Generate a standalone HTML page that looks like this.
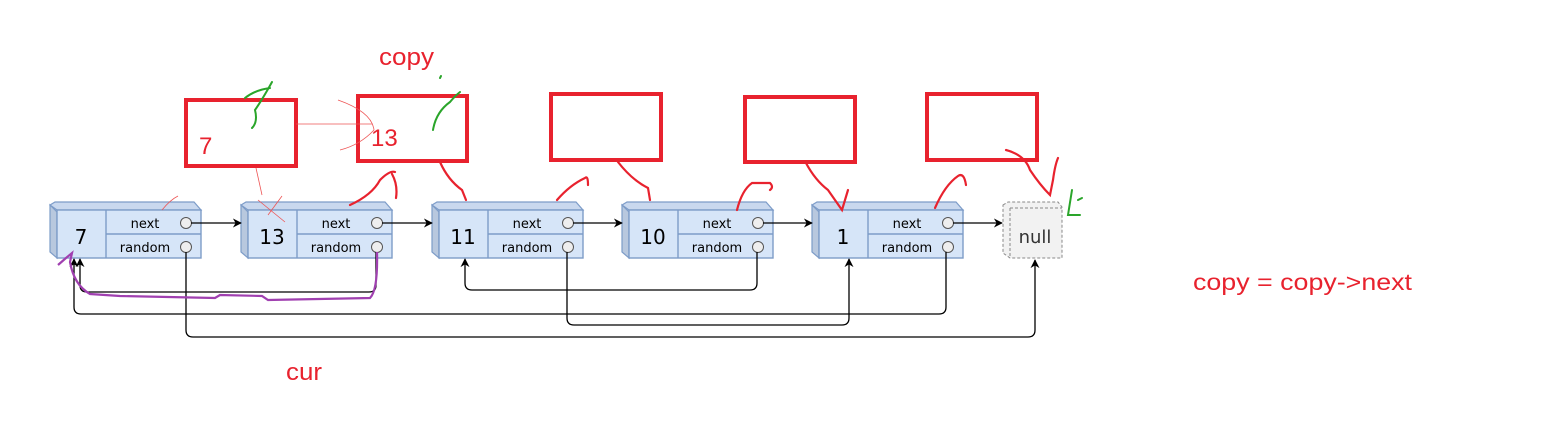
<!DOCTYPE html>
<html><head><meta charset="utf-8"><style>
body{margin:0;background:#fff;width:1543px;height:429px;overflow:hidden}
svg{display:block}
.lbl{font-family:"Comic Sans MS","DejaVu Sans",sans-serif}
</style></head><body>
<svg width="1543" height="429" viewBox="0 0 1543 429" xmlns="http://www.w3.org/2000/svg">
<defs>
<marker id="ar" viewBox="0 0 10 10" refX="9" refY="5" markerWidth="9" markerHeight="9" markerUnits="userSpaceOnUse" orient="auto"><path d="M0,0 L10,5 L0,10 L3,5z" fill="#000"/></marker>
<g id="node">
 <polygon points="0,3 7,10 7,56 0,50" fill="#b8c8de" stroke="#7d9cc8" stroke-width="1.2"/>
 <polygon points="0,3 5,0 144,0 151,8 7,8" fill="#c9d8ee" stroke="#7d9cc8" stroke-width="1.2"/>
 <rect x="7" y="8" width="144" height="48" fill="#d6e5f8" stroke="#7d9cc8" stroke-width="1.4"/>
 <line x1="56" y1="8" x2="56" y2="56" stroke="#7d9cc8" stroke-width="1.4"/>
 <line x1="56" y1="32" x2="151" y2="32" stroke="#7d9cc8" stroke-width="1.4"/>
 <text x="95" y="26" font-size="13" text-anchor="middle" class="lbl">next</text>
 <text x="95" y="50" font-size="13" text-anchor="middle" class="lbl">random</text>
 <circle cx="136" cy="21" r="5.5" fill="#eee" stroke="#555"/>
 <circle cx="136" cy="45" r="5.5" fill="#eee" stroke="#555"/>
</g>
</defs>
<g transform="translate(50,202)"><use href="#node"/><text x="31" y="42" font-size="20" text-anchor="middle" class="lbl">7</text></g>
<g transform="translate(241,202)"><use href="#node"/><text x="31" y="42" font-size="20" text-anchor="middle" class="lbl">13</text></g>
<g transform="translate(432,202)"><use href="#node"/><text x="31" y="42" font-size="20" text-anchor="middle" class="lbl">11</text></g>
<g transform="translate(622,202)"><use href="#node"/><text x="31" y="42" font-size="20" text-anchor="middle" class="lbl">10</text></g>
<g transform="translate(812,202)"><use href="#node"/><text x="31" y="42" font-size="20" text-anchor="middle" class="lbl">1</text></g>
<g>
 <polygon points="1003,205 1008,202 1058,202 1062,207 1062,258 1010,258 1003,253" fill="#f2f2f2" stroke="#888" stroke-dasharray="3,2"/>
 <line x1="1010" y1="208" x2="1010" y2="258" stroke="#888" stroke-dasharray="3,2"/>
 <line x1="1010" y1="208" x2="1062" y2="208" stroke="#888" stroke-dasharray="3,2"/>
 <text x="1035" y="243" font-size="18" text-anchor="middle" class="lbl" fill="#333">null</text>
</g>
<g stroke="#000" stroke-width="1.3" fill="none" marker-end="url(#ar)">
<line x1="191" y1="223" x2="241" y2="223"/>
<line x1="382" y1="223" x2="432" y2="223"/>
<line x1="573" y1="223" x2="622" y2="223"/>
<line x1="763" y1="223" x2="812" y2="223"/>
<line x1="953" y1="223" x2="1002" y2="223"/>
<path d="M186,252 V330 Q186,337 193,337 H1028 Q1035,337 1035,330 V260"/>
<path d="M376,252 V285 Q376,292 369,292 H87 Q80,292 80,285 V259"/>
<path d="M946,252 V307 Q946,314 939,314 H81 Q74,314 74,307 V259"/>
<path d="M567,252 V318 Q567,325 574,325 H842 Q849,325 849,318 V259"/>
<path d="M757,252 V283 Q757,290 750,290 H472 Q465,290 465,283 V259"/>
</g>
<path d="M58,265 L66,258 L72,253 L70,262 Q74,285 90,294 L120,296 L215,298 L220,295 L262,296 L268,300 L370,298 Q378,290 377,252" fill="none" stroke="#a040b0" stroke-width="2.2"/>
<g fill="none" stroke="#e8222e" stroke-width="4">
<rect x="186" y="100" width="110" height="66"/>
<rect x="358" y="96" width="109" height="65"/>
<rect x="551" y="94" width="110" height="66"/>
<rect x="745" y="97" width="110" height="65"/>
<rect x="927" y="94" width="110" height="66"/>
</g>
<g font-family="Liberation Sans, sans-serif" fill="#e8222e">
<text x="199" y="154" font-size="24">7</text>
<text x="371" y="146" font-size="24">13</text>
<text x="379" y="65" font-size="24" textLength="55" lengthAdjust="spacingAndGlyphs">copy</text>
<text x="286" y="380" font-size="24" textLength="36" lengthAdjust="spacingAndGlyphs">cur</text>
<text x="1193" y="290" font-size="23" textLength="219" lengthAdjust="spacingAndGlyphs">copy = copy-&gt;next</text>
</g>
<g stroke="#ee5555" stroke-width="0.8" fill="none">
<line x1="296" y1="124" x2="372" y2="124"/>
<path d="M338,100 Q372,112 374,130 Q360,145 340,150"/>
<path d="M256,168 L262,195 M258,200 L285,222 M282,196 L268,215"/>
<path d="M162,210 Q170,200 178,196"/>
</g>
<g stroke="#e8222e" stroke-width="2.2" fill="none" stroke-linecap="round">
<path d="M350,205 Q372,195 380,180 Q390,170 395,172 M392,174 Q398,185 396,198"/>
<path d="M440,162 Q448,180 462,190 L466,200"/>
<path d="M557,200 Q570,185 585,178 Q588,175 588,185"/>
<path d="M618,162 Q632,180 648,188 L650,200"/>
<path d="M737,210 Q742,190 752,183 L770,183 Q774,187 770,190"/>
<path d="M806,163 Q815,180 828,190 L842,210 L848,190"/>
<path d="M935,208 Q945,185 958,176 Q964,172 966,185"/>
<path d="M1006,150 Q1025,155 1030,170 Q1040,185 1050,195 L1053,180 Q1055,165 1058,158"/>
</g>
<g stroke="#2aa52a" stroke-width="2" fill="none" stroke-linecap="round">
<path d="M245,98 Q255,90 270,88 M272,82 Q262,100 255,110 Q258,122 252,128"/>
<path d="M433,130 Q436,112 450,102 Q455,96 460,92 M440,78 L441,76"/>
<path d="M1072,190 L1068,215 L1080,215 M1078,200 L1082,198"/>
</g>
</svg>
</body></html>
